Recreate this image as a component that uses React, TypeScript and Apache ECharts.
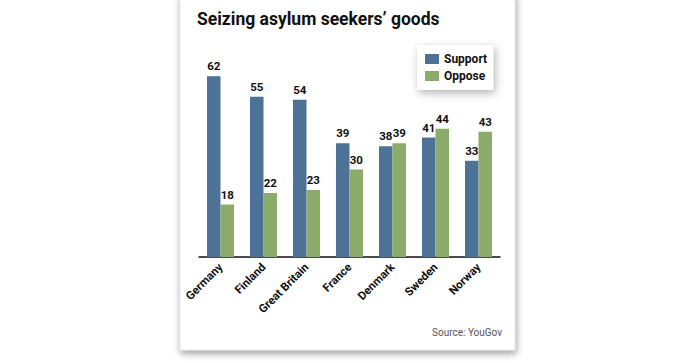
import React, { useEffect, useRef } from "react";
import * as echarts from "echarts";

const categories = ["Germany", "Finland", "Great Britain", "France", "Denmark", "Sweden", "Norway"];
const supportValues = [62, 55, 54, 39, 38, 41, 33];
const opposeValues = [18, 22, 23, 30, 39, 44, 43];
const titleText = "Seizing asylum seekers\u2019 goods";
const sourceText = "Source: YouGov";

const FONT = "Roboto, 'Open Sans', sans-serif";

export default function App() {
  const ref = useRef<HTMLDivElement>(null);
  useEffect(() => {
    if (!ref.current) return;
    const chart = echarts.init(ref.current, null, { renderer: "svg" });
    chart.setOption({
      animation: false,
      backgroundColor: "#ffffff",
      graphic: [
        {
          type: "rect",
          z: -10,
          silent: true,
          shape: { x: 180, y: -6, width: 335, height: 356 },
          style: {
            fill: "#ffffff",
            stroke: "#e2e2e2",
            lineWidth: 1,
            shadowBlur: 7,
            shadowOffsetX: 1,
            shadowOffsetY: 3,
            shadowColor: "rgba(0,0,0,0.4)",
          },
        },
        {
          type: "text",
          left: 197,
          top: 10,
          style: {
            text: titleText,
            font: `bold 17.5px ${FONT}`,
            fill: "#111111",
          },
        },
        {
          type: "text",
          left: 432,
          top: 327,
          style: {
            text: sourceText,
            font: `10px ${FONT}`,
            fill: "#555555",
          },
        },
      ],
      legend: {
        orient: "vertical",
        left: 417,
        top: 45,
        padding: [8, 6, 8, 8],
        itemGap: 5,
        itemWidth: 14,
        itemHeight: 10,
        icon: "rect",
        backgroundColor: "#ffffff",
        shadowBlur: 8,
        shadowOffsetX: 2,
        shadowOffsetY: 3,
        shadowColor: "rgba(0,0,0,0.3)",
        textStyle: { fontFamily: FONT, fontWeight: "bold", fontSize: 12, color: "#111" },
        data: ["Support", "Oppose"],
      },
      grid: { left: 199, right: 200, top: 53, bottom: 106 },
      xAxis: {
        type: "category",
        data: categories,
        axisLine: { lineStyle: { color: "#111", width: 1.5 } },
        axisTick: { show: false },
        axisLabel: {
          rotate: 45,
          interval: 0,
          margin: 8,
          fontFamily: FONT,
          fontWeight: "bold",
          fontSize: 11.5,
          color: "#111",
        },
      },
      yAxis: {
        type: "value",
        min: 0,
        max: 70,
        show: false,
        splitLine: { show: false },
      },
      series: [
        {
          name: "Support",
          type: "bar",
          data: supportValues,
          barWidth: 13.5,
          barGap: "0%",
          itemStyle: { color: "#4d7298" },
          label: {
            show: true,
            position: "top",
            distance: 4,
            fontFamily: FONT,
            fontWeight: "bold",
            fontSize: 11.5,
            color: "#111",
          },
        },
        {
          name: "Oppose",
          type: "bar",
          data: opposeValues,
          barWidth: 13.5,
          barGap: "0%",
          itemStyle: { color: "#8aab69" },
          label: {
            show: true,
            position: "top",
            distance: 4,
            fontFamily: FONT,
            fontWeight: "bold",
            fontSize: 11.5,
            color: "#111",
          },
        },
      ],
    });
    return () => chart.dispose();
  }, []);
  return (
    <div
      ref={ref}
      style={{ position: "fixed", left: 0, top: 0, width: 700, height: 363 }}
    />
  );
}
